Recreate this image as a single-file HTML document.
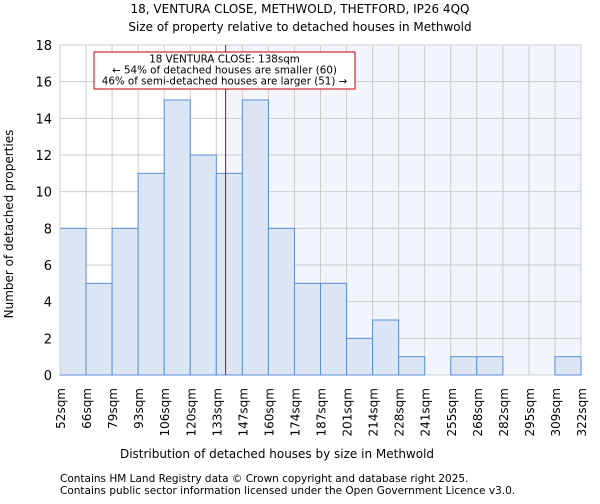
<!DOCTYPE html>
<html><head><meta charset="utf-8"><style>
body{margin:0;background:#fff;font-family:"DejaVu Sans","Liberation Sans",sans-serif}
</style></head><body>
<svg id="c" width="600" height="500" xmlns="http://www.w3.org/2000/svg" font-family="DejaVu Sans, Liberation Sans, sans-serif">
<text x="300" y="13" font-size="12" text-anchor="middle">18, VENTURA CLOSE, METHWOLD, THETFORD, IP26 4QQ</text>
<text x="300" y="31" font-size="12" text-anchor="middle">Size of property relative to detached houses in Methwold</text>
<g id="plot"></g>
<text x="277" y="458" font-size="12" text-anchor="middle">Distribution of detached houses by size in Methwold</text>
<text transform="translate(13,224) rotate(-90)" font-size="12" text-anchor="middle">Number of detached properties</text>
<text x="60" y="482" font-size="10.5">Contains HM Land Registry data © Crown copyright and database right 2025.</text>
<text x="60" y="494" font-size="10.5">Contains public sector information licensed under the Open Government Licence v3.0.</text>
</svg>
<script>
const binLabels=["52sqm","66sqm","79sqm","93sqm","106sqm","120sqm","133sqm","147sqm","160sqm","174sqm","187sqm","201sqm","214sqm","228sqm","241sqm","255sqm","268sqm","282sqm","295sqm","309sqm","322sqm"];
const binEdges=[52,66,79,93,106,120,133,147,160,174,187,201,214,228,241,255,268,282,295,309,322];
const counts=[8,5,8,11,15,12,11,15,8,5,5,2,3,1,0,1,1,0,0,1];
const yTicks=[0,2,4,6,8,10,12,14,16,18];
const propertySize=138;
const NS="http://www.w3.org/2000/svg";
const L=60,R=581,T=45,B=375,yMax=18;
const g=document.getElementById('plot');
const nb=counts.length;
const xi=i=>L+(R-L)*i/nb;
const y=v=>B-(B-T)*v/yMax;
function xv(v){for(let i=0;i<binEdges.length-1;i++){if(v<=binEdges[i+1])return xi(i)+(v-binEdges[i])/(binEdges[i+1]-binEdges[i])*(xi(i+1)-xi(i));}return R;}
function mk(t,a){const e=document.createElementNS(NS,t);for(const k in a)e.setAttribute(k,a[k]);g.appendChild(e);return e;}
const px=xv(propertySize);
let e=mk('rect',{x:px,y:T,width:R-px,height:B-T,fill:'#f2f5fc'});


yTicks.forEach(v=>{let l=mk('line',{x1:L,x2:R,y1:y(v),y2:y(v),stroke:'#cccccc'});


let t=mk('text',{x:L-8,y:y(v)+5,'font-size':13,'text-anchor':'end'});t.textContent=v;

});
for(let i=0;i<=nb;i++){let l=mk('line',{x1:xi(i),x2:xi(i),y1:T,y2:B,stroke:'#cccccc'});

}
counts.forEach((c,i)=>{if(c<=0)return;let r=mk('rect',{x:xi(i),y:y(c),width:xi(i+1)-xi(i),height:B-y(c),fill:'#dce5f3',stroke:'#5b8fd6','stroke-width':1});

});
binLabels.forEach((s,i)=>{let t=mk('text',{transform:`translate(${xi(i)+5},388) rotate(-90)`,'font-size':12,'text-anchor':'end'});t.textContent=s;

});
let ax=mk('line',{x1:L,x2:L,y1:T,y2:B,stroke:'#cccccc'});


let ml=mk('line',{x1:px,x2:px,y1:T,y2:B,stroke:'#cc0000','stroke-width':1});


let bx=mk('rect',{x:94,y:52,width:261,height:37,fill:'#fff',stroke:'#cc0000','stroke-width':1});


["18 VENTURA CLOSE: 138sqm","← 54% of detached houses are smaller (60)","46% of semi-detached houses are larger (51) →"].forEach((s,i)=>{let t=mk('text',{x:224.5,y:62.5+i*11,'font-size':10.3,'text-anchor':'middle'});t.textContent=s;

});
</script>
</body></html>
